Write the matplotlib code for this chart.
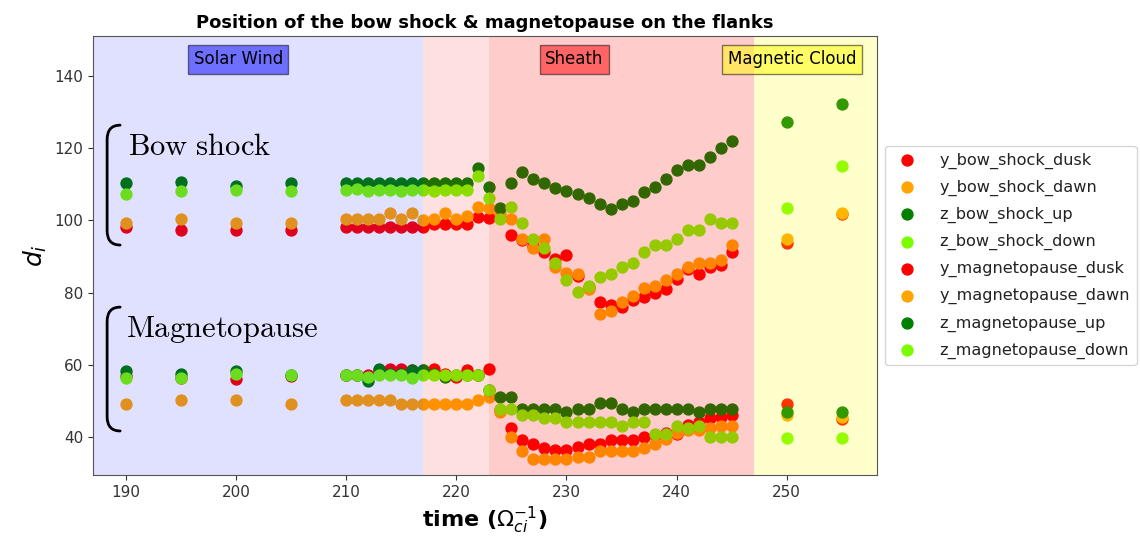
import numpy as np
import matplotlib
matplotlib.use('Agg')
import matplotlib.pyplot as plt
from matplotlib.path import Path
from matplotlib.patches import PathPatch


# time samples (in 1/Omega_ci)
time = [190, 195, 200, 205] + list(range(210, 246)) + [250, 255]

y_bow_shock_dusk = [98.3, 97.3, 97.3, 97.3,
                    98.3, 98.3, 98.3, 98.3, 98.3, 98.3, 98.3, 98.3, 99.0, 99.0, 99.0, 99.0,
                    101.0, 100.8, 101.0, 96.0, 94.5, 93.0, 91.3, 89.2, 90.4, 84.5, 81.5,
                    77.3, 76.6, 76.1, 78.1, 78.9, 79.8, 80.9, 83.9, 86.5, 85.1, 87.0, 87.8, 91.2,
                    93.8, 101.8]
y_bow_shock_dawn = [99.4, 100.3, 99.4, 99.4,
                    100.3, 100.3, 100.3, 100.3, 102.2, 100.4, 102.2, 100.1, 100.4, 102.2, 100.4, 101.3,
                    103.6, 103.5, 102.0, 100.3, 95.0, 92.3, 95.0, 87.2, 85.5, 85.1, 80.9,
                    74.1, 75.0, 77.3, 79.2, 81.2, 81.9, 83.5, 85.1, 87.2, 88.1, 88.1, 89.0, 93.2,
                    95.0, 102.1]
z_bow_shock_up = [110.5, 110.7, 109.5, 110.5,
                  110.5, 110.5, 110.5, 110.5, 110.5, 110.5, 110.5, 110.5, 110.5, 110.5, 110.5, 110.5,
                  114.5, 109.3, 103.5, 110.5, 113.3, 111.4, 110.5, 109.1, 108.1, 107.3, 106.3,
                  104.5, 103.3, 104.5, 105.4, 108.0, 109.2, 111.4, 114.1, 115.3, 115.3, 117.7, 120.0, 122.0,
                  127.3, 132.4]
z_bow_shock_down = [107.2, 108.2, 108.4, 108.2,
                    108.4, 108.8, 108.2, 108.4, 108.4, 108.2, 108.4, 108.4, 108.2, 108.4, 108.4, 108.4,
                    112.3, 106.3, 100.4, 103.6, 99.4, 95.0, 92.3, 88.1, 83.5, 80.1, 81.9,
                    84.4, 85.1, 87.0, 88.1, 91.3, 93.2, 93.2, 95.0, 97.3, 97.3, 100.3, 99.4, 99.4,
                    103.5, 115.1]

y_magnetopause_dusk = [57.0, 56.5, 56.0, 57.0,
                       57.2, 57.2, 57.2, 58.5, 59.0, 59.0, 58.5, 58.5, 59.0, 57.5, 56.7, 58.6,
                       57.2, 59.0, 47.5, 42.4, 39.2, 38.2, 37.1, 36.4, 36.4, 37.3, 38.2,
                       38.2, 39.2, 39.2, 39.2, 40.1, 40.5, 41.0, 40.8, 43.3, 44.2, 45.2, 45.6, 46.1,
                       49.3, 44.9]
y_magnetopause_dawn = [49.3, 50.2, 50.2, 49.3,
                       50.2, 50.2, 50.2, 50.2, 50.2, 49.3, 49.3, 49.3, 49.3, 49.3, 49.3, 49.3,
                       50.2, 51.0, 47.0, 39.9, 36.2, 33.8, 33.8, 33.8, 33.8, 34.5, 34.5,
                       36.2, 36.2, 36.2, 36.2, 37.1, 38.0, 39.6, 41.0, 42.0, 41.9, 42.4, 43.0, 43.0,
                       46.1, 45.5]
z_magnetopause_up = [58.4, 57.5, 58.4, 57.2,
                     57.2, 57.2, 55.6, 59.0, 57.5, 57.5, 58.6, 58.6, 57.5, 56.7, 57.2, 57.2,
                     57.2, 53.0, 51.2, 51.2, 47.9, 47.9, 47.9, 47.9, 47.0, 47.9, 47.9,
                     49.5, 49.5, 47.9, 47.0, 47.9, 47.9, 47.9, 47.9, 47.9, 47.0, 47.9, 47.9, 47.9,
                     47.0, 47.0]
z_magnetopause_down = [56.3, 56.3, 57.5, 57.2,
                       57.2, 57.2, 56.6, 57.2, 57.2, 57.2, 56.3, 57.2, 57.2, 57.2, 57.2, 57.2,
                       57.2, 53.0, 47.9, 47.9, 46.1, 46.1, 45.2, 45.2, 44.2, 44.2, 44.2,
                       44.2, 44.2, 43.0, 44.2, 44.2, 40.8, 40.8, 43.0, 42.4, 43.0, 39.9, 39.9, 39.9,
                       39.8, 39.8]

series = [
    ('y_bow_shock_dusk', y_bow_shock_dusk, 'red'),
    ('y_bow_shock_dawn', y_bow_shock_dawn, 'orange'),
    ('z_bow_shock_up', z_bow_shock_up, 'green'),
    ('z_bow_shock_down', z_bow_shock_down, 'lawngreen'),
    ('y_magnetopause_dusk', y_magnetopause_dusk, 'red'),
    ('y_magnetopause_dawn', y_magnetopause_dawn, 'orange'),
    ('z_magnetopause_up', z_magnetopause_up, 'green'),
    ('z_magnetopause_down', z_magnetopause_down, 'lawngreen'),
]

# regions: (start, end, colour, alpha)
regions = [(185, 217, 'blue', 0.12), (217, 223, 'red', 0.12),
           (223, 247, 'red', 0.2), (247, 260, 'yellow', 0.2)]
region_labels = [(200.2, 'Solar Wind', 'blue'), (230.7, 'Sheath', 'red'),
                 (250.5, 'Magnetic Cloud', 'yellow')]


def bracket(ax, x0, x1, top, bottom, r):
    verts = [(x1, top), (x0, top), (x0, top - r), (x0, bottom + r), (x0, bottom), (x1, bottom)]
    codes = [Path.MOVETO, Path.CURVE3, Path.CURVE3, Path.LINETO, Path.CURVE3, Path.CURVE3]
    ax.add_patch(PathPatch(Path(verts, codes), fill=False, lw=2.0, color='black',
                           capstyle='round', zorder=4))


fig = plt.figure(figsize=(11.4, 5.48), dpi=100)
ax = fig.add_axes([0.0816, 0.1332, 0.6877, 0.8011])

for name, vals, col in series:
    ax.scatter(time, vals, s=62, color=col, label=name, zorder=1)

for a, b, col, al in regions:
    ax.axvspan(a, b, color=col, alpha=al, lw=0, zorder=2)

for xc, txt, col in region_labels:
    ax.text(xc, 144.7, txt, ha='center', va='center', fontsize=12,
            bbox=dict(facecolor=col, alpha=0.5), zorder=5)

bracket(ax, 188.28, 189.46, 126.4, 93.2, 4.0)
bracket(ax, 188.28, 189.46, 76.0, 41.7, 4.0)
ax.text(190.2, 120.4, r'$\mathrm{Bow\ shock}$', fontsize=22, math_fontfamily='cm',
        va='center', ha='left', zorder=5)
ax.text(190.0, 69.8, r'$\mathrm{Magnetopause}$', fontsize=22, math_fontfamily='cm',
        va='center', ha='left', zorder=5)

ax.set_xlim(187.0, 258.2)
ax.set_ylim(29.5, 151.1)
ax.set_xticks([190, 200, 210, 220, 230, 240, 250])
ax.set_yticks([40, 60, 80, 100, 120, 140])
ax.tick_params(labelsize=11, colors='#333333')
for sp in ax.spines.values():
    sp.set_color('#555555')

ax.set_title('Position of the bow shock & magnetopause on the flanks',
             fontsize=13, fontweight='bold')
ax.set_xlabel(r'time ($\Omega_{ci}^{-1}$)', fontsize=16, fontweight='bold')
ax.set_ylabel(r'$d_i$', fontsize=18)

leg = ax.legend(loc='center left', bbox_to_anchor=(1.01, 0.5), borderaxespad=0,
                fontsize=11.6, labelspacing=0.68, handletextpad=1.0)
for t in leg.get_texts():
    t.set_color('#222222')

fig.savefig('out.png', dpi=100)
